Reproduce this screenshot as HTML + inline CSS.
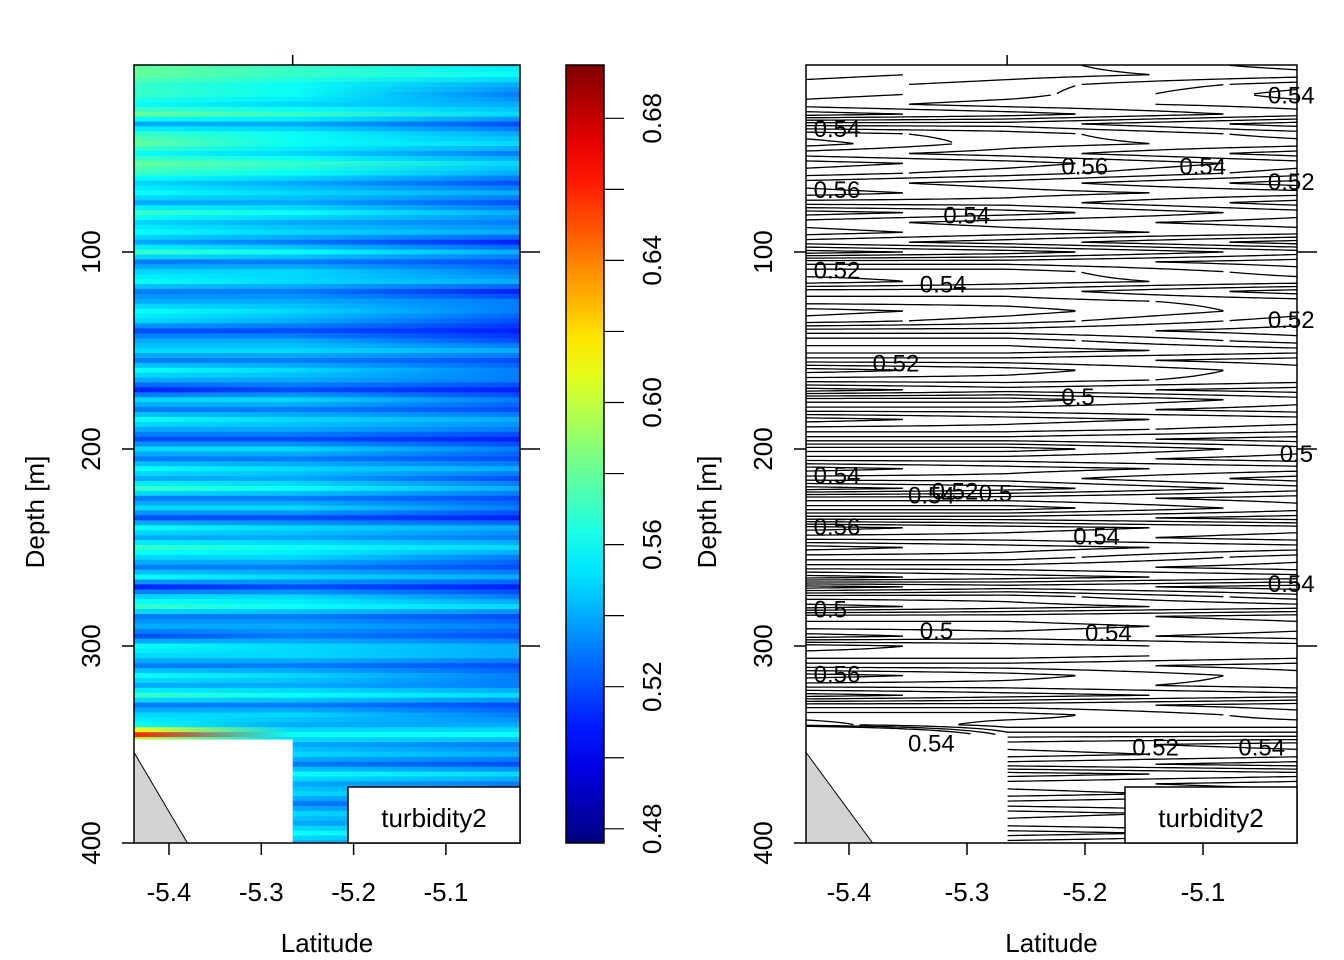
<!DOCTYPE html>
<html><head><meta charset="utf-8"><style>
html,body{margin:0;padding:0;background:#fff;}
svg{display:block;font-family:"Liberation Sans",sans-serif;}
</style></head><body>
<svg id="c" width="1344" height="960" viewBox="0 0 1344 960"></svg>
<script>
const depths = []; for (let i=0;i<80;i++) depths.push(5+5*i);
const stationLats = [-5.438, -5.266, -5.02];
const station1 = [0.58,0.58,0.57,0.57,0.56,0.58,0.54,0.57,0.58,0.56,0.58,0.57,0.55,0.56,0.54,0.57,0.55,0.56,0.54,0.57,0.53,0.55,0.56,0.53,0.54,0.56,0.55,0.52,0.54,0.55,0.53,0.56,0.54,0.51,0.55,0.53,0.56,0.54,0.52,0.55,0.53,0.56,0.54,0.57,0.53,0.55,0.52,0.56,0.54,0.57,0.55,0.53,0.56,0.51,0.55,0.57,0.53,0.54,0.52,0.56,0.55,0.53,0.56,0.54,0.57,0.53,0.55,0.56,0.66];
const station2 = [0.57,0.57,0.56,0.56,0.55,0.57,0.54,0.56,0.56,0.55,0.57,0.56,0.54,0.55,0.54,0.56,0.54,0.55,0.53,0.56,0.53,0.55,0.55,0.53,0.54,0.55,0.54,0.52,0.54,0.55,0.53,0.55,0.54,0.52,0.55,0.53,0.55,0.54,0.52,0.55,0.53,0.55,0.54,0.56,0.53,0.55,0.52,0.55,0.54,0.56,0.55,0.53,0.55,0.52,0.55,0.56,0.53,0.54,0.53,0.55,0.55,0.53,0.55,0.54,0.56,0.53,0.55,0.54,0.56,0.54,0.55,0.53,0.56,0.54,0.55,0.53,0.55,0.54,0.56,0.54];
const station3 = [0.55,0.56,0.54,0.53,0.54,0.55,0.52,0.54,0.55,0.53,0.55,0.54,0.52,0.54,0.52,0.54,0.53,0.54,0.51,0.54,0.52,0.53,0.54,0.51,0.53,0.53,0.52,0.51,0.52,0.54,0.52,0.53,0.53,0.51,0.53,0.52,0.54,0.53,0.51,0.53,0.52,0.54,0.52,0.54,0.52,0.53,0.51,0.54,0.53,0.55,0.53,0.52,0.54,0.51,0.53,0.55,0.52,0.53,0.52,0.54,0.54,0.52,0.53,0.53,0.55,0.52,0.53,0.54,0.56,0.53,0.54,0.52,0.55,0.53,0.54,0.52,0.54,0.53,0.55,0.53];
const contourLevels = [0.505,0.515,0.525,0.535,0.545,0.555,0.565,0.575];
const latTicks = [-5.4,-5.3,-5.2,-5.1];
const depthTicks = [100,200,300,400];
const cbarTicks = [0.48,0.52,0.56,0.60,0.64,0.68];
const contourLabels = [["0.54",-5.045,20],["0.54",-5.43,37],["0.56",-5.22,56],["0.54",-5.12,56],["0.52",-5.045,64],["0.56",-5.43,68],["0.54",-5.32,81],["0.52",-5.43,109],["0.54",-5.34,116],["0.52",-5.045,134],["0.52",-5.38,156],["0.5",-5.22,173],["0.5",-5.035,202],["0.54",-5.43,213],["0.54",-5.35,223],["0.52",-5.33,221],["0.5",-5.29,222],["0.56",-5.43,239],["0.54",-5.21,244],["0.54",-5.045,268],["0.5",-5.43,281],["0.5",-5.34,292],["0.54",-5.20,293],["0.56",-5.43,314],["0.54",-5.35,349],["0.52",-5.16,351],["0.54",-5.07,351]];

const NS="http://www.w3.org/2000/svg";
const svg=document.getElementById('c');
function mk(tag,attrs,parent){const e=document.createElementNS(NS,tag);for(const k in attrs)e.setAttribute(k,attrs[k]);(parent||svg).appendChild(e);return e;}
const yOf=d=>55+(d/100)*197;
const PL={x0:134,x1:520}, PR={x0:806,x1:1297};
const xL=lat=>169+(lat+5.4)*923;
const xR=lat=>849+(lat+5.4)*1180;
const yTop=65,yBot=843;
function jet(v){
  let t=(v-0.476)/(0.695-0.476); t=Math.max(0,Math.min(1,t));
  const r=Math.max(0,Math.min(1,Math.min(4*t-1.5,-4*t+4.5)));
  const g=Math.max(0,Math.min(1,Math.min(4*t-0.5,-4*t+3.5)));
  const b=Math.max(0,Math.min(1,Math.min(4*t+0.5,-4*t+2.5)));
  return `rgb(${Math.round(r*255)},${Math.round(g*255)},${Math.round(b*255)})`;
}
function valAt(i,lat){
  const a=station1[i],b=station2[i],c=station3[i];
  if(lat<=stationLats[1]){ if(a==null) return null; const f=(lat-stationLats[0])/(stationLats[1]-stationLats[0]); return a+(b-a)*f;}
  const f=(lat-stationLats[1])/(stationLats[2]-stationLats[1]); return b+(c-b)*f;
}
const defs=mk('defs',{});
const cp=mk('clipPath',{id:'clipL'},defs); mk('rect',{x:PL.x0,y:yTop,width:PL.x1-PL.x0,height:yBot-yTop},cp);
const gImg=mk('g',{'clip-path':'url(#clipL)'});


const oMid=(xL(stationLats[1])-xL(stationLats[0]))/(xL(stationLats[2])-xL(stationLats[0]));
let gc=0;
function rowRect(dTop,dBot,v1,v2,v3){
  const gid='g'+(gc++);
  const lg=mk('linearGradient',{id:gid,gradientUnits:'userSpaceOnUse',x1:xL(stationLats[0]),x2:xL(stationLats[2]),y1:0,y2:0},defs);
  mk('stop',{offset:0,'stop-color':jet(v1)},lg);
  mk('stop',{offset:oMid,'stop-color':jet(v2)},lg);
  mk('stop',{offset:1,'stop-color':jet(v3)},lg);
  const r=mk('rect',{x:PL.x0,y:yOf(dTop),width:PL.x1-PL.x0,height:yOf(dBot)-yOf(dTop)+0.6,fill:`url(#${gid})`},gImg);
  
  
}
depths.forEach((d,i)=>{
  const a=station1[i]!=null?station1[i]:station2[i];
  rowRect(d-1.25,d+1.25,a,station2[i],station3[i]);
  if(i<depths.length-1){
    const a2=station1[i+1]!=null?station1[i+1]:station2[i+1];
    rowRect(d+1.25,d+3.75,(a+a2)/2,(station2[i]+station2[i+1])/2,(station3[i]+station3[i+1])/2);
  }
  if(i===0) rowRect(0,d-1.25,a,station2[i],station3[i]);
});
function lastDepth1(){let k=0;station1.forEach((v,i)=>{if(v!=null)k=i;});return depths[k]+2.5;}
const blankL=mk('rect',{x:PL.x0,y:yOf(lastDepth1()),width:xL(stationLats[1])-PL.x0,height:yBot-yOf(lastDepth1()),fill:'#fff'});


const botL=mk('polygon',{points:`${PL.x0},${yOf(354)} ${xL(-5.38)},${yBot} ${PL.x0},${yBot}`,fill:'#d3d3d3',stroke:'#000','stroke-width':1});


const cpR=mk('clipPath',{id:'clipR'},defs); mk('rect',{x:PR.x0,y:yTop,width:PR.x1-PR.x0,height:yBot-yTop},cpR);
const gC=mk('g',{'clip-path':'url(#clipR)',stroke:'#000','stroke-width':1.3,fill:'none'});


const NC=80, lats=[];for(let k=0;k<=NC;k++)lats.push(stationLats[0]+(stationLats[2]-stationLats[0])*k/NC);
contourLevels.forEach(L=>{
  for(let i=0;i<depths.length-1;i++){
    let pts=[];
    const flush=()=>{if(pts.length>1){const p=mk('polyline',{points:pts.join(' ')},gC);}pts=[];};
    lats.forEach(lat=>{
      const a=valAt(i,lat),b=valAt(i+1,lat);
      if(a==null||b==null){flush();return;}
      let da=a-L,db=b-L; if(Math.abs(da)<1e-9)da=1e-6; if(Math.abs(db)<1e-9)db=1e-6;
      if(da*db<0){const f=da/(da-db);pts.push(xR(lat).toFixed(1)+','+yOf(depths[i]+5*f).toFixed(1));}
      else flush();
    });
    flush();
  }
});
const blankR=mk('rect',{x:PR.x0,y:yOf(lastDepth1()),width:xR(stationLats[1])-PR.x0,height:yBot-yOf(lastDepth1()),fill:'#fff'});


contourLabels.forEach(([t,lat,d])=>{
  const x=xR(lat),y=yOf(d);
  const e=mk('text',{x:x,y:y+9,'font-size':24,fill:'#000'});e.textContent=t;
  
  
});
const botR=mk('polygon',{points:`${PR.x0},${yOf(354)} ${xR(-5.38)},${yBot} ${PR.x0},${yBot}`,fill:'#d3d3d3',stroke:'#000','stroke-width':1});


function axes(P,xf,side){
  const fr=mk('rect',{x:P.x0,y:yTop,width:P.x1-P.x0,height:yBot-yTop,fill:'none',stroke:'#000','stroke-width':1.5});
  
  
  latTicks.forEach(l=>{
    const x=xf(l);
    mk('line',{x1:x,x2:x,y1:yBot,y2:yBot+12,stroke:'#000','stroke-width':1.5});
    const t=mk('text',{x:x,y:yBot+58,'font-size':26,'text-anchor':'middle'});t.textContent=l.toFixed(1);
    
    
  });
  const xm=xf(stationLats[1]);
  mk('line',{x1:xm,x2:xm,y1:yTop,y2:yTop-10,stroke:'#000','stroke-width':1.5});
  depthTicks.forEach(d=>{
    const y=yOf(d);
    mk('line',{x1:P.x0,x2:P.x0-12,y1:y,y2:y,stroke:'#000','stroke-width':1.5});
    if(d<400) mk('line',{x1:P.x1,x2:P.x1+20,y1:y,y2:y,stroke:'#000','stroke-width':1.5});
    const t=mk('text',{x:0,y:0,'font-size':26,'text-anchor':'middle',transform:`translate(${P.x0-34},${y}) rotate(-90)`});t.textContent=d;
    
    
  });
  const xt=mk('text',{x:(P.x0+P.x1)/2,y:952,'font-size':26,'text-anchor':'middle'});xt.textContent='Latitude';
  
  
  const yt=mk('text',{x:0,y:0,'font-size':26,'text-anchor':'middle',transform:`translate(${P.x0-90},${yOf(232)}) rotate(-90)`});yt.textContent='Depth [m]';
  
  
  const lw=172,lx=P.x1-lw;
  const lb=mk('rect',{x:lx,y:787,width:lw,height:56,fill:'#fff',stroke:'#000','stroke-width':1.5});
  
  
  const lt=mk('text',{x:lx+lw/2,y:827,'font-size':26,'text-anchor':'middle'});lt.textContent='turbidity2';
  
  
}
axes(PL,xL,'left');axes(PR,xR,'right');
const cbY=v=>843-(v-0.476)/(0.695-0.476)*(843-65);
const cg=mk('linearGradient',{id:'cbg',x1:0,x2:0,y1:1,y2:0},defs);
for(let k=0;k<=20;k++){const v=0.476+(0.695-0.476)*k/20;mk('stop',{offset:k/20,'stop-color':jet(v)},cg);}
const cb=mk('rect',{x:566,y:65,width:38,height:778,fill:'url(#cbg)',stroke:'#000','stroke-width':1.5});


for(let v=0.48;v<=0.6801;v+=0.02){mk('line',{x1:604,x2:624,y1:cbY(v),y2:cbY(v),stroke:'#000','stroke-width':1.2});}
cbarTicks.forEach(v=>{
  const t=mk('text',{x:0,y:0,'font-size':26,'text-anchor':'middle',transform:`translate(${661},${cbY(v)}) rotate(-90)`});t.textContent=v.toFixed(2);
  
  
});
</script>
</body></html>
